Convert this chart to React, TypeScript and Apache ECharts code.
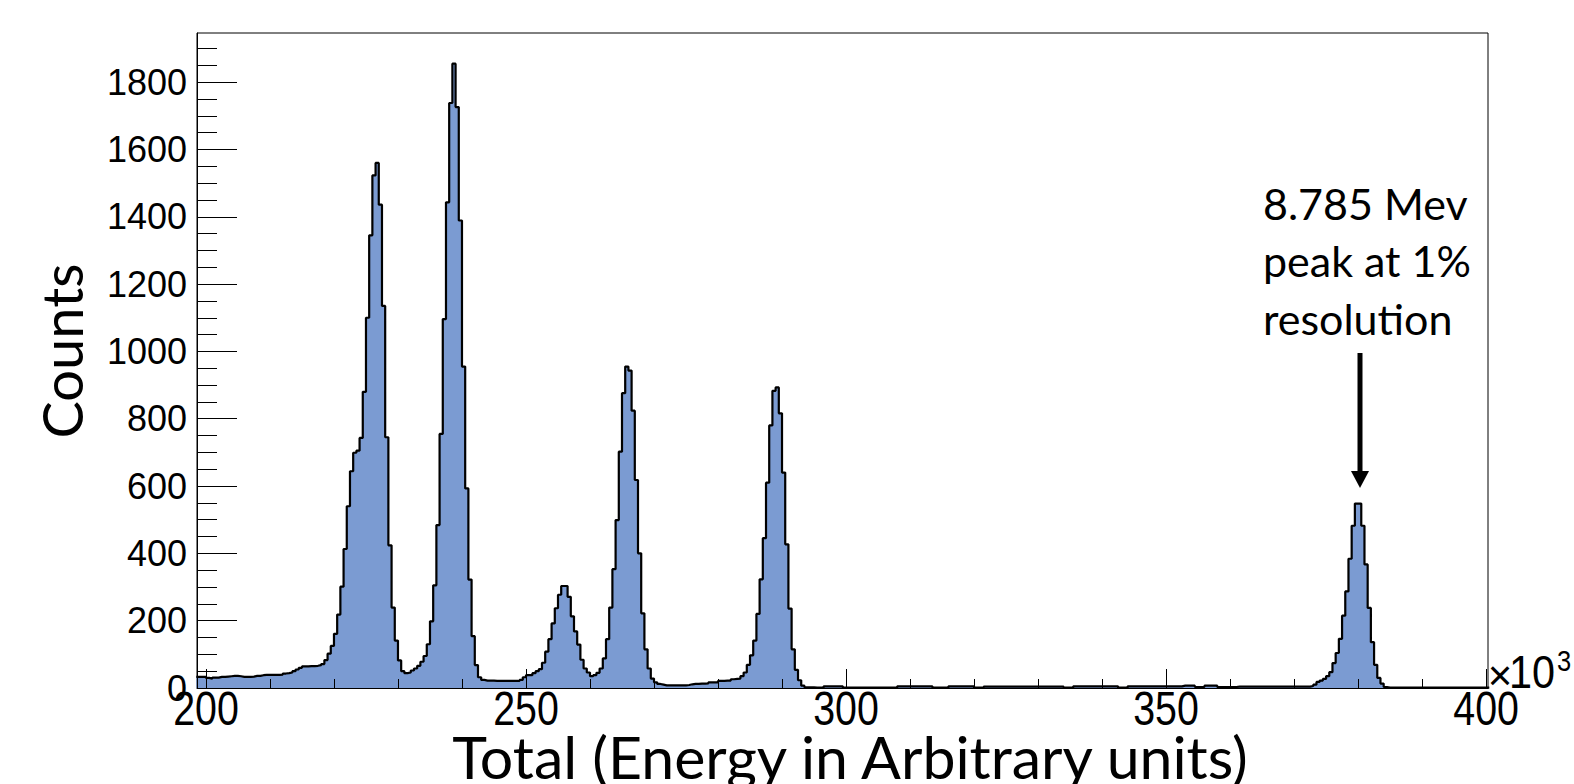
import React, { useEffect, useRef } from "react";
import * as echarts from "echarts";

// Histogram binning (bin edges in units of 10^3)
const binStart = 198.5;
const binWidth = 0.5;

// Counts per bin
const countsLow = [
  33, 33, 33, 30, 28, 31, 31, 33, 33, 34,
  35, 36, 36, 35, 33, 33, 33, 34, 36, 36,
  38, 39, 39, 39, 39, 39, 40, 43, 44, 46,
  50, 55, 60, 64, 64, 65, 65, 66, 68, 71,
  83, 102, 125, 161, 218, 301, 413, 540, 644, 699,
  705, 743, 880, 1100, 1345, 1523, 1560, 1436, 1135, 745,
  424, 239, 141, 82, 50, 44, 46, 52, 58, 66,
  78, 95, 130, 198, 305, 484, 755, 1096, 1443, 1738,
  1855, 1726, 1389, 955, 593, 322, 154, 68, 32, 24,
  22, 22, 22, 21, 21, 21, 21, 21, 21, 21,
];
const countsMid = [
  21, 24, 32, 38, 38, 44, 50, 56, 75, 108,
  145, 192, 237, 277, 303, 303, 271, 213, 168, 129,
  84, 58, 46, 35, 38, 45, 58, 88, 145, 239,
  353, 499, 702, 876, 955, 943, 824, 618, 400, 222,
  115, 58, 28, 17, 12, 10, 8, 8, 8, 8,
  8, 8, 8, 9, 11, 12, 12, 13, 13, 14,
  17, 17, 17, 21, 21, 22, 22, 26, 27, 28,
  35, 46, 69, 97, 141, 220, 323, 445, 610, 780,
  883, 893, 816, 640, 427, 236, 115, 54, 23, 7,
  2, 2, 2, 1, 1, 1, 5, 5, 5, 5,
];
const countsFlat = [
  5, 5, 1, 1, 1, 1, 1, 1, 1, 1,
  1, 1, 1, 1, 1, 1, 1, 1, 1, 5,
  5, 5, 5, 5, 5, 5, 5, 5, 5, 5,
  1, 1, 1, 1, 1, 5, 5, 5, 5, 5,
  5, 5, 5, 1, 1, 1, 4, 4, 4, 4,
  4, 4, 4, 4, 4, 4, 4, 4, 4, 4,
  4, 4, 4, 4, 4, 4, 4, 4, 4, 4,
  4, 1, 1, 1, 5, 5, 5, 5, 5, 5,
  5, 5, 5, 5, 5, 5, 5, 5, 1, 1,
  1, 5, 5, 5, 5, 5, 5, 5, 5, 5,
];
const countsHigh = [
  5, 5, 5, 5, 5, 5, 5, 5, 7, 7,
  7, 7, 3, 3, 3, 7, 7, 7, 7, 3,
  3, 3, 3, 3, 3, 4, 4, 4, 4, 4,
  4, 4, 4, 4, 4, 4, 4, 4, 4, 4,
  4, 4, 4, 4, 4, 4, 4, 4, 6, 10,
  18, 22, 27, 35, 47, 74, 104, 146, 215, 287,
  384, 482, 548, 548, 482, 367, 238, 136, 69, 30,
  13, 3, 1, 1, 1, 1, 1, 1, 1, 1,
  1, 1, 1, 1, 1, 1, 1, 1, 1, 1,
  1, 1, 1, 1, 1, 1, 1, 1, 1, 1,
  1, 1, 1, 1,
];

const xMajorTicks = [200, 250, 300, 350, 400];
const xMinorTicks = [210, 220, 230, 240, 260, 270, 280, 290, 310, 320, 330, 340, 360, 370, 380, 390];
const yMajorTicks = [0, 200, 400, 600, 800, 1000, 1200, 1400, 1600, 1800];
const yMinorTicks = [50, 100, 150, 250, 300, 350, 450, 500, 550, 650, 700, 750, 850, 900, 950, 1050, 1100, 1150, 1250, 1300, 1350, 1450, 1500, 1550, 1650, 1700, 1750, 1850, 1900];

const xTitle = "Total (Energy in Arbitrary units)";
const yTitle = "Counts";
const noteLines = ["8.785 Mev", "peak at 1%", "resolution"];

const X_MIN = 198.6;
const X_MAX = 400.3;
const Y_MAX = 1946;

const ROOT_FONT = "'Liberation Sans', Arial, sans-serif";
const SLIDE_FONT = "Lato, 'Open Sans', sans-serif";

export default function App() {
  const ref = useRef<HTMLDivElement>(null);

  useEffect(() => {
    if (!ref.current) return;
    const chart = echarts.init(ref.current, undefined, { renderer: "svg" });

    const counts = [...countsLow, ...countsMid, ...countsFlat, ...countsHigh];
    const data: number[][] = counts.map((c, i) => [binStart + i * binWidth, c]);
    data.push([binStart + counts.length * binWidth, counts[counts.length - 1]]);

    const axisCommon = { type: "value", splitLine: { show: false }, z: 5 };

    const option: any = {
      animation: false,
      grid: {
        left: 197,
        top: 33,
        right: 86,
        bottom: 96,
        show: true,
        borderColor: "#000",
        borderWidth: 1,
        backgroundColor: "transparent",
      },
      xAxis: [
        {
          ...axisCommon,
          min: X_MIN,
          max: X_MAX,
          position: "bottom",
          axisLine: { show: true, lineStyle: { color: "#000", width: 1 } },
          axisTick: { show: true, inside: true, length: 19, customValues: xMajorTicks, lineStyle: { color: "#000", width: 1 } },
          axisLabel: { show: false },
        },
        {
          ...axisCommon,
          min: X_MIN,
          max: X_MAX,
          position: "bottom",
          axisLine: { show: false },
          axisTick: { show: true, inside: true, length: 9, customValues: xMinorTicks, lineStyle: { color: "#000", width: 1 } },
          axisLabel: { show: false },
        },
      ],
      yAxis: [
        {
          ...axisCommon,
          min: 0,
          max: Y_MAX,
          position: "left",
          axisLine: { show: true, lineStyle: { color: "#000", width: 1 } },
          axisTick: { show: true, inside: true, length: 40, customValues: yMajorTicks, lineStyle: { color: "#000", width: 1 } },
          axisLabel: {
            show: true,
            customValues: yMajorTicks,
            formatter: (v: number) => String(v),
            color: "#000",
            fontSize: 36,
            fontFamily: ROOT_FONT,
            margin: 10,
          },
        },
        {
          ...axisCommon,
          min: 0,
          max: Y_MAX,
          position: "left",
          offset: 0,
          axisLine: { show: false },
          axisTick: { show: true, inside: true, length: 20, customValues: yMinorTicks, lineStyle: { color: "#000", width: 1 } },
          axisLabel: { show: false },
        },
      ],
      series: [
        {
          type: "line",
          step: "end",
          data,
          xAxisIndex: 0,
          yAxisIndex: 0,
          symbol: "none",
          clip: true,
          silent: true,
          z: 2,
          lineStyle: { color: "#000", width: 2.2 },
          areaStyle: { color: "#7b9bd2", opacity: 1 },
        },
      ],
    };

    chart.setOption(option);

    // x tick labels: condensed ROOT-style numbers placed through the axis scale
    const axisY = chart.convertToPixel({ yAxisIndex: 0 }, 0) as number;
    const xLabels = xMajorTicks.map((v) => ({
      type: "text",
      x: chart.convertToPixel({ xAxisIndex: 0 }, v) as number,
      y: axisY + 20,
      scaleX: 0.82,
      style: {
        text: String(v),
        fontSize: 48,
        fontFamily: ROOT_FONT,
        fill: "#000",
        textAlign: "center",
        textVerticalAlign: "middle",
      },
    }));

    const graphic: any[] = [
      ...xLabels,
      {
        type: "text",
        x: 61,
        y: 351,
        rotation: Math.PI / 2,
        style: {
          text: yTitle,
          fontSize: 56,
          fontFamily: SLIDE_FONT,
          fill: "#000",
          textAlign: "center",
          textVerticalAlign: "middle",
        },
      },
      {
        type: "text",
        x: 850,
        y: 756,
        style: {
          text: xTitle,
          fontSize: 59,
          fontFamily: SLIDE_FONT,
          fill: "#000",
          textAlign: "center",
          textVerticalAlign: "middle",
        },
      },
      ...noteLines.map((t, i) => ({
        type: "text",
        x: 1263,
        y: [203, 260, 318][i],
        style: {
          text: t,
          fontSize: 43,
          fontFamily: SLIDE_FONT,
          fill: "#000",
          textAlign: "left",
          textVerticalAlign: "middle",
        },
      })),
      {
        type: "line",
        shape: { x1: 1360, y1: 353, x2: 1360, y2: 474 },
        style: { stroke: "#000", lineWidth: 5 },
      },
      {
        type: "polygon",
        shape: { points: [[1351, 471], [1369, 471], [1360, 488]] },
        style: { fill: "#000" },
      },
      {
        type: "text",
        x: 1500,
        y: 675,
        style: {
          text: "×",
          fontSize: 42,
          fontFamily: ROOT_FONT,
          fill: "#000",
          textAlign: "center",
          textVerticalAlign: "middle",
        },
      },
      {
        type: "text",
        x: 1532,
        y: 672,
        scaleX: 0.9,
        style: {
          text: "10",
          fontSize: 46,
          fontFamily: ROOT_FONT,
          fill: "#000",
          textAlign: "center",
          textVerticalAlign: "middle",
        },
      },
      {
        type: "text",
        x: 1564,
        y: 661,
        scaleX: 0.85,
        style: {
          text: "3",
          fontSize: 30,
          fontFamily: ROOT_FONT,
          fill: "#000",
          textAlign: "center",
          textVerticalAlign: "middle",
        },
      },
    ];

    chart.setOption({ graphic });
    return () => chart.dispose();
  }, []);

  return (
    <div
      ref={ref}
      style={{ position: "fixed", left: 0, top: 0, width: 1574, height: 784, background: "#fff" }}
    />
  );
}
